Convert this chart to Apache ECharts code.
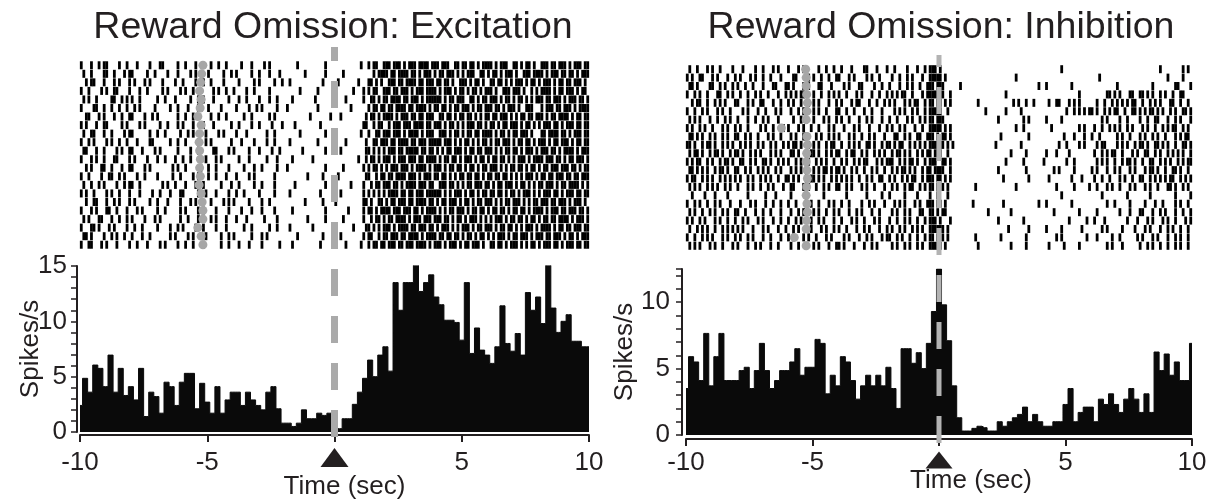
<!DOCTYPE html>
<html>
<head>
<meta charset="utf-8">
<title>Reward Omission</title>
<script src="https://cdn.jsdelivr.net/npm/echarts@6.0.0/dist/echarts.min.js"></script>
<style>
  html, body { margin: 0; padding: 0; background: #fff; }
  #chart { width: 1222px; height: 502px; }
</style>
</head>
<body>
<div id="chart"></div>
<script>
// PSTH bins are 0.2 s wide, centred on -10, -9.8, ... 10
const binSec = 0.2;
const panelTitles = ['Reward Omission: Excitation', 'Reward Omission: Inhibition'];

const excRates = [
  2.4, 4.85, 3.6, 6.05, 5.75, 4.1, 6.95, 3.6, 5.75, 3.3,
  4.1, 2.9, 5.75, 1.4, 3.6, 3.2, 1.7, 4.5, 4.1, 2.4,
  4.5, 5.3, 5.3, 2.1, 4.4, 2.7, 1.7, 4.1, 1.7, 2.9,
  3.6, 3.6, 2.4, 3.6, 2.9, 2.4, 2.0, 3.6, 4.1, 2.1,
  0.8, 0.8, 0.5, 0.8, 2.0, 1.2, 1.2, 1.7, 1.5, 1.7,
  1.7, 0.3, 1.2, 1.2, 2.5, 3.6, 4.85, 6.5, 5.0, 6.95,
  7.7, 5.5, 13.5, 11.0, 13.5, 13.5, 15.1, 12.7, 13.5, 14.2,
  12.2, 11.5, 10.1, 10.1, 9.9, 8.3, 13.5, 7.1, 9.4, 7.4,
  6.95, 6.2, 7.7, 11.4, 8.0, 7.3, 8.9, 6.95, 12.6, 11.0,
  12.2, 9.8, 15.1, 11.2, 9.0, 10.0, 10.6, 8.2, 8.2, 7.7,
  7.7
];

const inhRates = [
  3.5, 5.9, 5.5, 4.1, 7.65, 3.7, 5.9, 7.65, 4.1, 4.1,
  4.1, 4.85, 5.1, 3.5, 4.85, 6.9, 4.85, 3.5, 4.1, 4.85,
  4.85, 5.5, 6.5, 4.5, 5.1, 5.1, 7.2, 6.9, 3.1, 4.5,
  3.7, 5.9, 5.5, 4.1, 2.7, 3.7, 4.5, 3.7, 4.5, 3.7,
  5.1, 3.5, 2.0, 6.5, 6.5, 5.4, 6.2, 5.0, 6.9, 9.3,
  12.5, 9.8, 7.1, 3.7, 1.3, 0.3, 0.3, 0.5, 0.66, 0.55,
  0.3, 0.3, 1.0, 0.66, 1.0, 1.3, 1.55, 2.1, 1.0, 1.55,
  1.0, 0.66, 0.66, 1.0, 1.0, 2.3, 3.5, 1.0, 1.7, 2.1,
  2.1, 1.0, 2.7, 2.3, 3.1, 2.3, 1.7, 2.7, 3.5, 2.7,
  1.7, 3.1, 1.7, 6.25, 4.85, 6.1, 4.5, 5.5, 4.1, 4.1,
  6.9
];

// grey marker per trial (sec)
const excCue = [-5.17, -5.22, -5.26, -5.30, -5.24, -5.28, -5.37, -5.24, -5.30, -5.32, -5.30,
  -5.27, -5.30, -5.27, -5.32, -5.24, -5.20, -5.17, -5.17, -5.37, -5.24, -5.17];
const inhCue = [-5.27, -5.25, -5.25, -5.23, -5.20, -5.22, -5.25, -6.23, -5.22, -5.20, -5.23,
  -5.25, -5.22, -5.20, -5.23, -5.25, -5.22, -5.20, -5.23, -5.25, -5.72, -5.25];

// one string per trial, ten 2-second groups, 'x' = spike in that 0.1 s slot
const excRaster = [
  "x...x..x.xx....x..x. ..x....x...xx.....x. .x...x.....x..x..x.. ...x...x....x.x..... .....x..........x... ..........x..x.xx..x xx.xxx.x.xxx.xxxx.xx x.xxx..xx.xx.xx.x.xx xx.x.xxx..xx.x.xx.x. .xxx.xx.xxx.x.xxx.xx",
  ".x..x....xx..x...x.x x.....x..x....x...x. ...x.x....x.....x..x .x.....x..x...x...x. ........x.......x... ...x...........x.xxx x.xx.xxxx.xx.x.xxx.x .xx.xxx.x.x.xxx..xx. x.xx.x.xxx.x..xxx.xx xx.x.xxx.xx.xx.x.xxx",
  "..x.xx...x...x.x...x .x...x.x....x....x.. x....x..x..x....x... ..x.....x.x.....x..x ..x............x.... .x.......x...xx.x.x. .xxx.xx.xxxx.xx.xxx. xx.xx.x..xxx.x.xx.x. .xx.xx.x.x.xxx.x.xx. x.xxx.x.xx.xx.xxx.x.",
  "x..x....x.x..xx....x ...x..x.....x.x....x .x..x.......x.x..x.. x....x..x.....x..... ......x......x...... .......x...x.x.xx..x xx.xx.xxx.x.xxx.xxxx .x.xxx.x.xx.x.xx.x.x xx.x..xxx.xxx.x..x.x .xxxx.x.xx.xxx.x.xx.",
  ".x.x..x.....xx..x.x. x..x......x..x...x.. ...x..x.x...x.....x. ..x..x....x...x..x.. ...x........x....... ....x......x..xx.x.x x.xxxx.xx.xxx.x.xxxx xx.x.xx.xxx..xx.x.xx .xxx.x.xx.x.xx.x.x.x xx.xx.xxx.x.xxx.xx.x",
  "x....xx..x..x..x..x. .x.x.....x.....x..x. ..x...xx..x....x.... .x....x..x.x.....x.. .x...........x...... ......x......x.xx.xx .xx.xxxx.xx.xxxx.x.x x.xx.x.xx.xxx.x.xx.x xx.xx.x.xxx.x..xxx.. .x.xxx.xx.xxx.x.xxxx",
  "..xx...x.x...x..x..x x....x..x.x.......x. .x..x......x..x..x.. ....x..x......x.x... ..........x.......x. ..x.........x.xx.x.x xxx.x.xxx.xx.xx.xxx. .xx.xx.x.xx.xx.x.x.x x.xx.xxx.x.x.xx.xx.x xx.x.xx.xxxx.x.xx.xx",
  "x.x...x..xx.....x.x. ...x.x.....x..x...x. x...x...x...x......x ..x....x..x....x...x ....x.........x..... ...........xx..x.xx. .x.xxx.xxx.xxxx.xx.x xx.x.xx.x.x.xxx.xx.x .xx.x.xx.xxx.x.xx.x. x.xxx.xx.x.xxx.xx.xx",
  ".x..xx...x..x....x.x x......x..x..x.....x ..x.x....x....x.x... .x...x.......x..x... ......x.........x... x.........x..x..xx.x xx.xxx.x.xxxx.x.xxx. .xxx.x.xx.x.xx.xx.xx xx.x.xx.x.xx.xxx.x.. .xx.xxxx.xx.x.xxx.xx",
  "x..x.x....x.x..x..x. ..x....xx......x..x. .x....x..x.x.......x ...x....x....x..x... ..x..........x...... ....x.......x..xx.xx x.xx.xxxx.xx.xxx.xxx xx.xxx.x.x.xx.x.x.xx .x.xx.xxx.x.xx.xx.x. xxx.x.xx.xxx.x.xx.xx",
  ".xx...x..x....x.x..x x...x....x.x......x. ...x..x.....xx....x. x.....x...x....x..x. .......x........x... ..x.........xx.x.x.x .xxx.xx.xxxxx.xx.xx. x.x.xx.xxx.x.xx.xx.x xx.x.x.xx.xx.x.xxx.x .xxx.xx.x.xxxx.x.xxx",
  "x...x.x..x...xx....x .x....x...x..x...x.. x..x.....x...x.x.... ..x...x......x...x.. ...x.......x........ .........x..x.xx.x.x xx.x.xxx.xxx.xx.xxxx .x.xx.xx.x.xxx.x.xx. x.xx.xx.x.x.xxx.x.xx xx.xxx.xx.x.xx.xxx.x",
  "..x.x...xx..x...x..x x....x.x........x.x. .x.....x..x..x....x. ....x...x..x.....x.. .x..............x... ...x.......x.x.xx.x. x.xxx.xxx.x.xxxx.x.x xx.x.xx.xx.x.xx.x.xx .xxx.x.x.xx.xx.x.xx. x.xx.xxx.xxx.xx.x.xx",
  "x..x....x..xx..x.x.. ..x..x....x.....x..x ....x.x...x..x...x.. .x....x.x.......x... .........x.....x.... .x..........xx..x.xx .xx.xxxx.xxx.x.xxx.x x.xx.x.x.xx.xx.xx.x. xx.xx.xx.x.x.x.xxx.x .xx.xx.xxx.xx.xx.xxx",
  ".x..x..x.x....x..x.x x..x........x.x..x.. .x...x..x......x...x ..x.....x..x....x... ....x...........x... ......x....x..x.xx.x xx.xx.x.xxxx.xxx.xx. .xxx.xx.x.x.xx.xxx.x x.x.xx.xxx.x.xx.x.x. xx.xxx.x.xx.xxxx.x.x",
  "x.x..x....x.x..x...x ...x....x..x...x...x x.....x..x...x....x. .x..x.....x.....x... ..x...........x..... ..x........x.x.x.x.x .xxxx.xx.xx.xxx.xxxx xx.x.x.xxx.x.xx.x.xx .xx.xx.x.xx.x.xxx.x. x.xxx.xx.x.xxx.xx.xx",
  "..x..xx...x..x.x...x .x.....x..x...x....x ...x.x.....x....x.x. x.....x....x..x..... ........x......x.... x..........xx.x..xx. x.xx.xxx.xx.xxxx.xx. x.xx.xxx.x.xx.x.xx.x xx.x.x.xx.xxx.x.x.xx .xxx.xx.xxx.x.xxx.x.",
  "x...x.x...xx..x...x. ..x.x.....x..x.....x .x....x.x....x....x. ...x...x...x....x... ...x............x... .....x.....x.xx.x.xx xx.xxx.xxx.xx.x.xxxx .x.x.xx.xxx.x.xx.xx. x.xx.xx.x.xx.xx.x.xx xx.x.xxx.xx.xxx.xx.x",
  ".x.x...xx...x..x..x. x....x...x.x.......x ..x...x....x.x...x.. .x...x......x....x.. .........x......x... ...x.......x..x.xx.x .xx.xxxx.x.xxx.xxx.x xx.xx.x.xx.x.xxx.x.x .x.xxx.x.xx.xx.x.xx. x.xx.xx.xxxx.x.xxx.x",
  "x...xx.x...x.x....x. .x..x.....x....x..x. x....x..x....x...x.. ....x..x......x..x.. ..x........x........ .......x....xx.x.x.x xx.x.xxxx.xx.xxx.xx. x.xxx.x.x.xxx.x.xx.x xx.x.xx.xx.x.x.xxx.x .xxxx.x.xx.xx.xxx.xx",
  ".xx.x....x..x.x..x.. x...x..x.......x.x.. ..x.x....x.....x..x. x......x...x.x...... .....x.........x.... ..x........x.xx..x.x x.xxx.xx.xxxx.x.xxxx .xx.xx.xx.x.xx.x.xx. x.x.xxx.x.xx.xxx.x.x xx.xx.xxx.x.xx.x.xxx",
  "x..xx...x.x...x....x ..x...x....x.x....x. .x..x...x......x..x. ..x...x....x......x. ...x..........x..... ....x.....x..x.xx.xx .xxx.xx.xxx.xxxx.x.x xx.x.xxx.x.xx.xxx.x. .xx.xx.x.xxx.x.x.xx. x.xxx.xx.x.xxx.xx.xx"
];

const inhRaster = [
  ".x..x...x.x..x....x. ..x....x..x...x.x... x...x.x.....x..x..x. .x...x....xx...x...x ..x....x...x..x.xxx. x................... .................... ........x........... .................... .......x........x.x.",
  "x.x..xx...x.x...x..x .x...x.x..x..x...x.. ..xx....x.x..x..x..x x...x.x....x.x..x... .x..x..x.x...x..xxxx x.x................. ..........x......... .................... ...x................ ..........x.....x...",
  ".xx.x....xx..x.x..x. x..x..x...x...xx...x x.x...x.x...xx...x.. ..x.x...xx....x..x.. x...x..x.x..x..xxx.x xx......x........... ...................x ..x.........x....... ..........x......... ....x........xx....x",
  "x..x.x..x...xx..x.x. .x..x..x.x..x...x..x .x.x.xx...x..x..x.x. x..x...x.x...x..x..x .x.x.xx..x...x.xxxxx xx..x............... ......x............. ...............x.... ......xx.x.x...xx..x x.x.x..x.x..x..xx...",
  "..x.xx..x..x.x.x...x x...x.x..xx...x..x.. x.x..x..x.x.x...x..x .x...x.xx...x..x..x. x.x...x.x.xx..x.xx.x x.x.x..........x.... .........x.x..x..x.. ...x..xx...x.x.x.... ..x..x..x.x.x.x.xx.. x..x.x.x...xx..x..x.",
  "x..x..x.x...x.x..x.. ..x.x...x..x...x.x.. .x..x.x...x.x..x...x x..x..x...x..x...x.. ..x.x.x..x.x..x.xxxx x..x..............x. ......x.....x....... ..........x..x.x.x.x x.x..x.x.xx..x..xx.x .x.xx.x.x..x.x..xx.x",
  ".x.x.x...x..x..x.x.. x...x..x..x.x...x... ..x..x.x..x...x.x..x .x..x...x..x.x...x.. x..x...x.x..x.x.xx.x xx.................. ...x.........x.x.... ..x.....x........... ....x.x....x..x....x ..x..xx...x..x.x...x",
  "x.x..x.x..x...x.x..x .x..x....x.x..x...x. x...x.x..x..x...x.x. ..x...x.x...x...x..x .x..x.x...x..x..xxxx x.x.x............... ..........x..x...... ....x..........x.x.. .x..x..x.x.x..x.x... x.x..x..x.x.xx..x.x.",
  ".xx.x.x..x.x..x.x..x x..x.x..x...x.x..x.. .x.x..xx...x.x..x.x. x...x.x..x..x.x...x. ..xx..x.x..xx..xxx.x .xx.x............... ....x..........x.... .........x...x...x.. x..x......x.x..x...x .x..x.x..x...x.x.xx.",
  "xx.x..x.xx.x..x.x.x. .x.x.x..x.x..x.x..x. x.xx.x..x.x.x..x.xx. .x..x.x.x..xx.x..x.x x.x.xx..x.x.x.x.xxxx xx.x.x.............. ..x.........x....... .......x..x....x.x.. ..x.xx....x.x.x..x.x x.x..xx.x.x..x..xx.x",
  ".x.xx.x..x.xx.x..x.x x.x..x.x.x...x.x.x.. .xx.x..x.xx.x..x.x.x x..x.xx..x.x..x.x.x. .x.xx.x.x..x.x.xx.xx x..x................ ........x.....x..... ..x...x....x........ .x..x.x.xx..x...x.x. .xx..x.x..x.x.x.x..x",
  "x.x.xx..x.x..x.xx.x. .xx..x.x..xx.x..x.x. x..x.x.xx..x.x.x..x. .x.x..x.x.xx...x.x.x xx..x.x.xx.x..x.xxx. .xx.x............... ......x......x...... .x........x..x...... ..x.x.x..x..x.xx.x.. x..xx..x.x.x..x.x.xx",
  ".xx.x.x.x..x.xx.x..x x..x.x..x.x.x..x.x.. .x.x.x.x..x.x.xx.x.x x.x..x.x..x..x.x..x. .x.x.xx.x.x..x.xx.xx xx..x............... ...x..........x..... .....x.x.....x...... x.x...x..x.x...x.x.. .x.xx.x..x..xx.x..x.",
  "x.xx..x.x.x..x.x.x.x .x..x.x..x.x.x..x..x x.x.x..x.xx.x.x..x.x .x.x.x..x..x.x..xx.. x.x..x.x.xx..x.xxx.x x.x.x............... .....x.........x.... ...x........x...x... .x..x..x...x.x..x..x x..x.x.x.x.xx..x.x.x",
  ".x.x.x..x.x.x..x.x.. x...x.x..x..x.x...x. .xx...x.x..x..x.x..x x..x.x...x.x..x...x. .x.x..x.xx..x.x.xx.x .x.x..........x..... ..........x......... ......x......x.....x ..x...x.x..x...x.x.. .x.x..x...xx.x..x.x.",
  "..x....x...x....x... ....x......x...x.... .x.....x......x..... ...x.......x.....x.. x.....x....x....x..x ...x................ .................... ........x........... ....x.........x..... ...x.........x.....x",
  "x..x.x..x..x.x...x.. .x...x.x...x..x..x.. x..x...x.x..x...x.x. .x..x....x..x.x...x. ..x.x.x...x.x..xxx.x x.x..........x...... .....x.............x ..x.........x....... ......x..x.....x.... .x...x..x....x.x..x.",
  ".x.x..x..x.x..x.x..x x..x...x..x..x...x.. .x..x.x...x.x..x..x. x...x..x.x...x..x... .x.x..x.x...xx..xx.x .xx................x ........x........... .....x.........x.... ..x........x...x...x x...x..x.x...x..x..x",
  "x.x..x.x...x.x..x..x ..x.x...x.x...x..x.. x..x.x...x..x.x...x. .x...x.x..x...x.x... x..x..x.x..x..x.xxx. x...x............... ...x.........x...... ...........x......x. .x...x........x...x. ..x.x...x.x..x...x.x",
  ".x..x.x.x..x..x.x.x. x.x...x...x.x...x..x ..x.x..x.x...x.x..x. x..x...x..x.x...x..x .x..x.x..x.x.x..xxxx xx.x................ .......x.......x.... ..x.....x.......x... ....x.x.....x....x.. .x.x...x..x.x..x..x.",
  "x..x..x.x.x...x.x..x .x..x.x...x..x...x.. x.x...x.x..x...x.x.. ..x.x...x..x.x...x.x x..x.x..x..x..x.xx.x .x.x..........x..... ....x.........x..... ......x.x.........x. ..x.....x..x......x. x...x.x...x..x.x..x.",
  ".x.x.x...x.x..x...x. x...x..x.x...x..x... .x..x..x..x.x...x..x x.x...x...x..x.x.... .x.x..x.x..x.x..xxxx x.x............x.... ........x.....x..... ...x.....x.....x.... ......x.x...x......x ..x.x..x..x..x.x..x."
];

const ink = '#231f20';
const font = '"Liberation Sans", Arial, Helvetica, sans-serif';

// pixel layout of the two panels
const layout = [
  { cx: 333, left: 80, width: 509, rasterTop: 61, rasterH: 188, histTop: 266, histH: 166, axisOff: 3, yMax: 15,
    lineTop: 47, lineH: 391, lineW: 7, lineColor: '#aaaaaa', dashOffset: 13, triY: -2.3, triSize: [28, 19],
    labelMargin: 15, nameGap: 39, namePad: 20, yLabelMargin: 10, yNameGap: 33 },
  { cx: 941, left: 686, width: 506, rasterTop: 65, rasterH: 185, histTop: 269, histH: 166, axisOff: 4, yMax: 12.5,
    lineTop: 55, lineH: 388, lineW: 5, lineColor: '#b3b3b3', dashOffset: 15, triY: -1.88, triSize: [27, 17],
    labelMargin: 11, nameGap: 29, namePad: 64, yLabelMargin: 12, yNameGap: 44 }
];

function rasterPoints(rows) {
  const pts = [];
  rows.forEach((row, r) => {
    row.split(' ').forEach((grp, g) => {
      const step = 2 / grp.length;
      for (let j = 0; j < grp.length; j++) {
        if (grp[j] === 'x') pts.push([-10 + g * 2 + (j + 0.5) * step, r]);
      }
    });
  });
  return pts;
}

function histPoints(rates) {
  return rates.map((v, k) => [+(-10 + k * binSec).toFixed(2), v]);
}

const panelData = [
  { rates: excRates, raster: excRaster, cue: excCue },
  { rates: inhRates, raster: inhRaster, cue: inhCue }
];

const grids = [], xAxes = [], yAxes = [], series = [];
const hidden = { show: false };

layout.forEach((p, i) => {
  const d = panelData[i];
  const g0 = grids.length;
  const nTrials = d.raster.length;

  // raster, histogram, and a tall overlay for the dashed event line
  grids.push({ left: p.left, width: p.width, top: p.rasterTop, height: p.rasterH, outerBoundsMode: 'none' });
  grids.push({ left: p.left, width: p.width, top: p.histTop, height: p.histH, outerBoundsMode: 'none' });
  grids.push({ left: p.left, width: p.width, top: p.lineTop, height: p.lineH, outerBoundsMode: 'none' });

  xAxes.push({ type: 'value', gridIndex: g0, min: -10, max: 10, show: false });
  yAxes.push({ type: 'value', gridIndex: g0, min: -0.5, max: nTrials - 0.5, inverse: true, show: false });

  xAxes.push({
    type: 'value', gridIndex: g0 + 1, min: -10, max: 10, interval: 5, offset: p.axisOff,
    axisLine: { show: true, onZero: false, lineStyle: { color: ink, width: 2 } },
    axisTick: { show: true, length: 7, lineStyle: { color: ink, width: 2 } },
    axisLabel: { show: true, margin: p.labelMargin, color: ink, fontSize: 26, fontFamily: font,
      formatter: (v) => (v === 0 ? '' : String(v)) },
    splitLine: hidden,
    name: 'Time (sec)', nameLocation: 'middle', nameGap: p.nameGap, nameMoveOverlap: false,
    nameTextStyle: { color: ink, fontSize: 26, fontFamily: font, padding: [0, 0, 0, p.namePad] }
  });
  yAxes.push({
    type: 'value', gridIndex: g0 + 1, min: 0, max: p.yMax, interval: 1, offset: p.axisOff,
    axisLine: { show: true, onZero: false, lineStyle: { color: ink, width: 2 } },
    axisTick: { show: true, length: 6, lineStyle: { color: ink, width: 1.5 } },
    axisLabel: { show: true, margin: p.yLabelMargin, color: ink, fontSize: 26, fontFamily: font,
      formatter: (v) => (v % 5 === 0 ? String(v) : '') },
    splitLine: hidden,
    name: 'Spikes/s', nameLocation: 'middle', nameGap: p.yNameGap, nameMoveOverlap: false,
    nameTextStyle: { color: ink, fontSize: 26, fontFamily: font }
  });

  xAxes.push({ type: 'value', gridIndex: g0 + 2, min: -10, max: 10, show: false });
  yAxes.push({ type: 'value', gridIndex: g0 + 2, min: 0, max: 1, inverse: true, show: false });

  series.push({
    type: 'scatter', xAxisIndex: g0, yAxisIndex: g0, data: rasterPoints(d.raster),
    symbol: 'rect', symbolSize: [2.8, 8], itemStyle: { color: '#000', opacity: 1 }, silent: true, z: 2
  });
  series.push({
    type: 'scatter', xAxisIndex: g0, yAxisIndex: g0, data: d.cue.map((t, r) => [t, r]),
    symbol: 'circle', symbolSize: 9, itemStyle: { color: '#a6a6a6', opacity: 1 }, silent: true, z: 3
  });
  series.push({
    type: 'line', xAxisIndex: g0 + 1, yAxisIndex: g0 + 1, data: histPoints(d.rates),
    step: 'middle', symbol: 'none', lineStyle: { color: '#0a0a0a', width: 1 },
    areaStyle: { color: '#0a0a0a', opacity: 1 }, silent: true, z: 2
  });
  series.push({
    type: 'scatter', xAxisIndex: g0 + 1, yAxisIndex: g0 + 1, data: [[0, p.triY]],
    symbol: 'triangle', symbolSize: p.triSize, itemStyle: { color: ink, opacity: 1 }, clip: false, silent: true, z: 4
  });
  series.push({
    type: 'line', xAxisIndex: g0 + 2, yAxisIndex: g0 + 2, data: [[0, 0], [0, 1]], symbol: 'none',
    lineStyle: { color: p.lineColor, width: p.lineW, type: [27, 20], dashOffset: p.dashOffset, cap: 'butt' },
    silent: true, z: 5
  });
});

const chart = echarts.init(document.getElementById('chart'));
chart.setOption({
  animation: false,
  backgroundColor: '#fff',
  grid: grids,
  xAxis: xAxes,
  yAxis: yAxes,
  series: series,
  graphic: panelTitles.map((t, i) => ({
    type: 'text', x: layout[i].cx, y: 28, silent: true,
    style: { text: t, fill: ink, fontSize: 37.5, fontFamily: font,
      align: 'center', verticalAlign: 'middle', textAlign: 'center', textVerticalAlign: 'middle' }
  }))
});
</script>
</body>
</html>
